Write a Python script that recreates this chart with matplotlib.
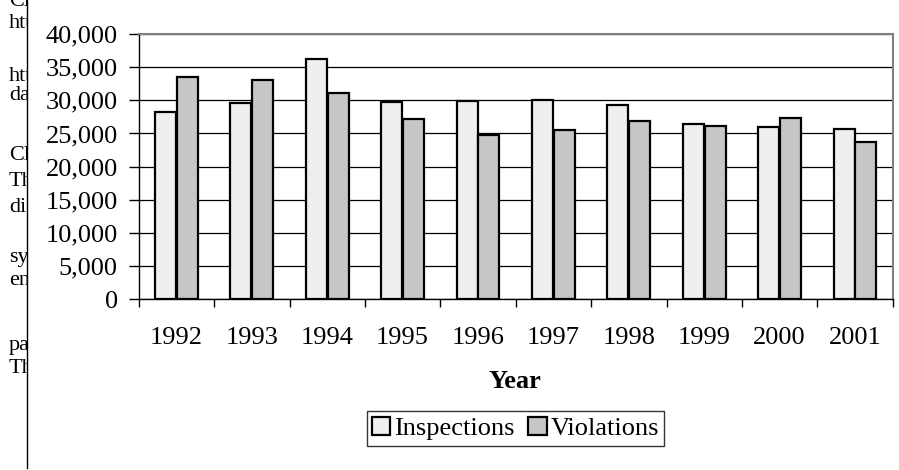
import matplotlib
matplotlib.use("Agg")
import matplotlib.pyplot as plt
import numpy as np
from matplotlib.patches import Rectangle
from matplotlib.ticker import FuncFormatter, MultipleLocator

years = ["1992", "1993", "1994", "1995", "1996", "1997", "1998", "1999", "2000", "2001"]
inspections = [28200, 29550, 36250, 29800, 29850, 30000, 29250, 26400, 26000, 25750]
violations = [33500, 33100, 31100, 27150, 24800, 25500, 26850, 26100, 27400, 23750]
series_names = ["Inspections", "Violations"]
xlabel = "Year"
margin_fragments = ["Cle", "htt", "htt", "dat", "Cle", "The", "dis", "sys", "enf", "par", "The"]
margin_baselines_px = [6, 28, 81, 100, 160, 186, 212, 262, 285, 350, 373]

W, H = 899, 470
fig = plt.figure(figsize=(W / 100, H / 100), dpi=100)
plt.rcParams['font.family'] = ['Liberation Serif', 'DejaVu Serif']

ax = fig.add_axes([138.7 / W, 1 - 299.3 / H, (892.7 - 138.7) / W, (299.3 - 34) / H])

x = np.arange(len(years))
bw = 0.28
off = 0.145
ax.bar(x - off, inspections, bw, facecolor="#efefef", edgecolor="black", linewidth=1.6, zorder=3)
ax.bar(x + off, violations, bw, facecolor="#c6c6c6", edgecolor="black", linewidth=1.6, zorder=3)

ax.set_xlim(-0.5, len(years) - 0.5)
ax.set_ylim(0, 40000)
ax.yaxis.set_major_locator(MultipleLocator(5000))
ax.yaxis.set_major_formatter(FuncFormatter(lambda v, p: f"{int(v):,}"))
ax.grid(axis="y", color="black", linewidth=0.9, zorder=0)
ax.set_axisbelow(True)

ax.set_xticks(x)
ax.set_xticklabels(years)
ax.set_xticks(np.arange(len(years) + 1) - 0.5, minor=True)
ax.tick_params(axis="x", which="major", length=0, pad=20, labelsize=19)
ax.tick_params(axis="x", which="minor", length=6, width=1, direction="out", color="black")
ax.tick_params(axis="y", which="major", length=7, width=1, direction="out", pad=8, labelsize=19)

for s in ["top", "right"]:
    ax.spines[s].set_color("#808080")
    ax.spines[s].set_linewidth(1.5)
for s in ["left", "bottom"]:
    ax.spines[s].set_color("black")
    ax.spines[s].set_linewidth(1.0)

fig.text(515 / W, 1 - 381 / H, xlabel, ha="center", va="center", fontsize=19, fontweight="bold")

handles = [Rectangle((0, 0), 1, 1, facecolor="#efefef", edgecolor="black", linewidth=1.6),
           Rectangle((0, 0), 1, 1, facecolor="#c6c6c6", edgecolor="black", linewidth=1.6)]
leg = fig.legend(handles, series_names, loc="center", bbox_to_anchor=(515.5 / W, 1 - 428.5 / H),
                 ncol=2, fontsize=19, frameon=True, fancybox=False, edgecolor="black",
                 handlelength=0.7, handleheight=0.7, handletextpad=0.15, columnspacing=0.5,
                 borderpad=0.2, borderaxespad=0)
leg.get_frame().set_linewidth(1.0)

# clipped margin text and vertical line at left
clip = Rectangle((0, 0), 27 / W, 1, transform=fig.transFigure, visible=False)
fig.add_artist(clip)
for t, yb in zip(margin_fragments, margin_baselines_px):
    tx = fig.text(9 / W, 1 - yb / H, t, ha="left", va="baseline", fontsize=16)
    tx.set_clip_path(clip)
fig.add_artist(plt.Line2D([27 / W, 27 / W], [1 - 468 / H, 1], transform=fig.transFigure,
                          color="black", linewidth=1.0))

fig.savefig("out.png", dpi=100)
